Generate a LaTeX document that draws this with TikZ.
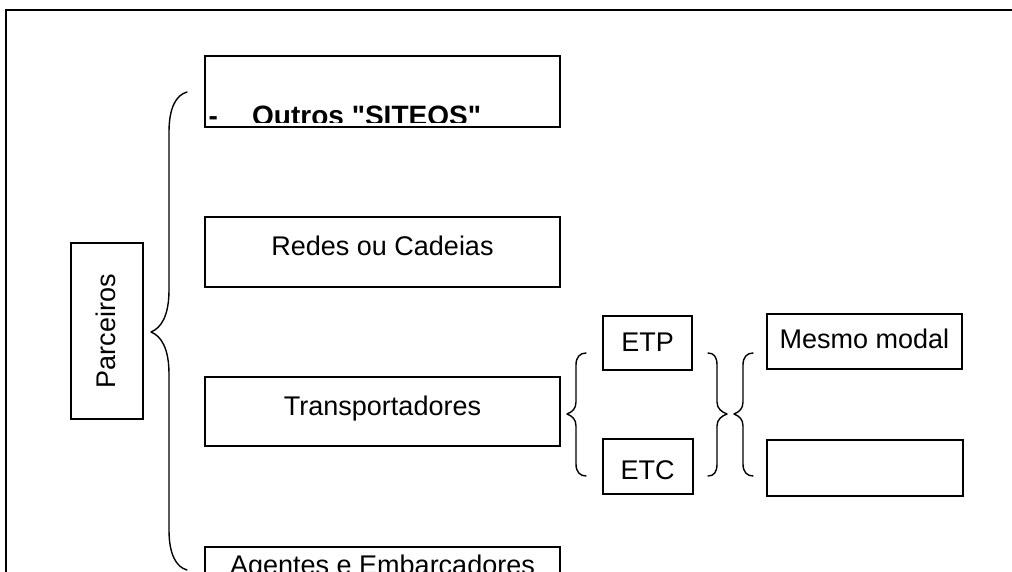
\documentclass[tikz,border=0pt]{standalone}
\usepackage{fontspec}
\setmainfont{Liberation Sans}[Ligatures=TeXOff]
\usetikzlibrary{calc}
\begin{document}
\begin{tikzpicture}[x=1pt,y=-1pt,
  box/.style={draw, line width=2pt, inner sep=0pt, font=\fontsize{27}{32}\selectfont},
  bracepath/.style={line width=1.4pt, line cap=round, line join=round},
  framepath/.style={line width=2pt}]
\clip (0,0) rectangle (1012,571);
\fill[white] (0,0) rectangle (1012,571);

% outer frame
\draw[framepath] (1016,10) -- (6,10) -- (6,576);

% left column
\node[box, rotate=90, minimum width=176pt, minimum height=72pt,
      text height=20pt, text depth=4pt] (parc) at (107,331) {Parceiros};

% main categories
\node[box, minimum width=355pt, minimum height=71pt] (outros) at (382.5,91.5) {};
\begin{scope}
  \clip (outros.north west) rectangle ($(outros.south east)+(0,-6)$);
  \node[font=\bfseries\fontsize{28}{33}\selectfont, anchor=base west, inner sep=0pt]
    (outrostxt) at (208.5,125) {-\hspace{34.2pt}Outros "SITEOS"};
\end{scope}
\node[box, minimum width=355pt, minimum height=70pt,
      text height=20pt, text depth=13pt] (redes) at (382.5,251.5) {Redes ou Cadeias};
\node[box, minimum width=355pt, minimum height=69pt,
      text height=20pt, text depth=13pt] (transp) at (382.5,411.5) {Transportadores};
\node[box, minimum width=355pt, minimum height=71pt,
      text height=0pt, text depth=16.4pt] (agentes) at (382.5,582.5) {Agentes e Embarcadores};

% carriers
\node[box, minimum width=89pt, minimum height=54pt,
      text height=20pt, text depth=4pt] (etp) at (647.5,343) {ETP};
\node[box, minimum width=90pt, minimum height=55pt,
      text height=25pt, text depth=0pt] (etc) at (647.5,466.5) {ETC};

% modal
\node[box, minimum width=195pt, minimum height=55pt,
      text height=20pt, text depth=7pt] (mesmo) at (864.5,341.5) {Mesmo modal};
\node[box, minimum width=196pt, minimum height=56pt] (outromodal) at (865,468) {};

% large brace grouping the categories
\draw[bracepath] (187,92) .. controls (176,95) and (169,108) .. (169,132)
  -- (169,290) .. controls (169,316) and (161,328) .. (151,332)
  .. controls (161,336) and (169,348) .. (169,374)
  -- (169,530) .. controls (169,554) and (176,567) .. (187,570);

% brace before ETP / ETC
\draw[bracepath] (586,353) .. controls (580,353) and (576,357) .. (576,365)
  -- (576,402) .. controls (576,409) and (572,412) .. (567,414)
  .. controls (572,416) and (576,419) .. (576,426)
  -- (576,464) .. controls (576,472) and (580,476) .. (586,476);

% closing brace after ETP / ETC
\draw[bracepath] (708,353) .. controls (714,353) and (717,357) .. (717,365)
  -- (717,402) .. controls (717,409) and (722,412) .. (727,414)
  .. controls (722,416) and (717,419) .. (717,426)
  -- (717,464) .. controls (717,472) and (714,476) .. (708,476);

% brace before the modal boxes
\draw[bracepath] (753,353) .. controls (747,353) and (743,357) .. (743,365)
  -- (743,402) .. controls (743,409) and (739,412) .. (734,414)
  .. controls (739,416) and (743,419) .. (743,426)
  -- (743,464) .. controls (743,472) and (747,476) .. (753,476);
\end{tikzpicture}
\end{document}
